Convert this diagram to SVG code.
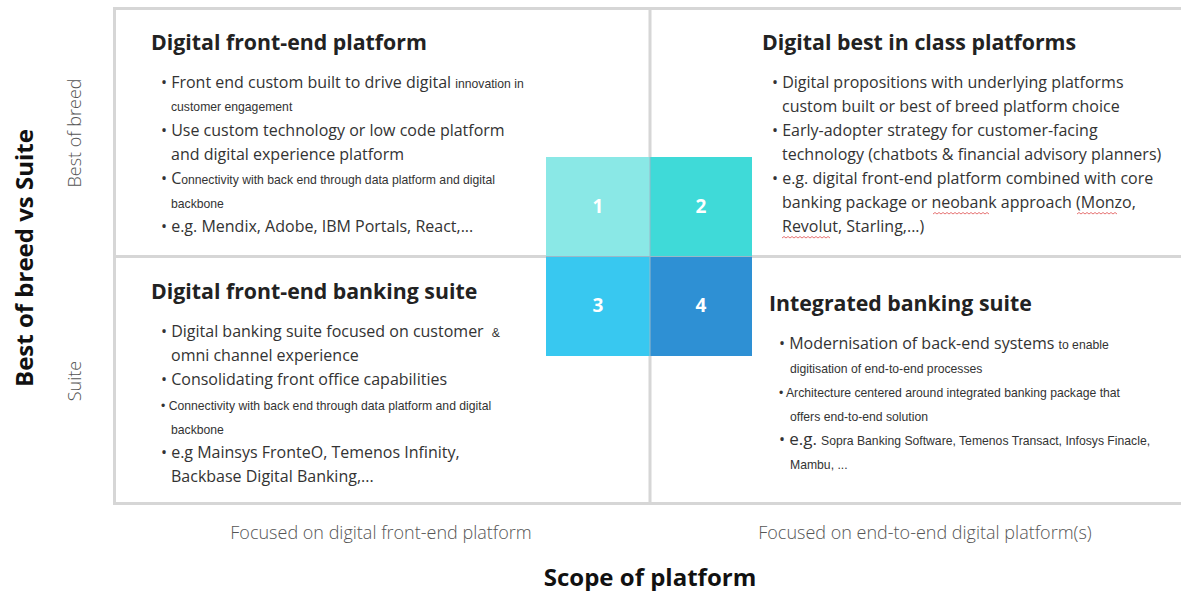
<svg xmlns="http://www.w3.org/2000/svg" width="1181" height="591" viewBox="0 0 1181 591">
  <defs>
    <style>
      .grid { fill: none; stroke: #d6d6d6; stroke-width: 3; }
      .title { font-family: "Open Sans", "DejaVu Sans", sans-serif; font-weight: 700; font-size: 21.3px; fill: #222; }
      .body { font-family: "Open Sans", "DejaVu Sans", sans-serif; font-size: 16px; fill: #333; }
      .small { font-family: "Liberation Sans", Arial, sans-serif; font-size: 12.2px; fill: #333; }
      .num { font-family: "Open Sans", "DejaVu Sans", sans-serif; font-weight: 700; font-size: 19px; fill: #fff; text-anchor: middle; }
      .axis { font-family: "Open Sans", "DejaVu Sans", sans-serif; font-weight: 700; font-size: 24px; fill: #111; text-anchor: middle; }
      .tick { font-family: "Open Sans", "DejaVu Sans", sans-serif; font-weight: 300; font-size: 18px; fill: #555; text-anchor: middle; }
      .squiggle { fill: none; stroke: #e05050; stroke-width: 0.8; }
    </style>
  </defs>

  <rect width="1181" height="591" fill="#fff"/>

  <!-- quadrant frame -->
  <g id="frame">
    <path class="grid" d="M1185 8.5 H114.5 V503.5 H1185"/>
    <line class="grid" x1="650" y1="8" x2="650" y2="504"/>
    <line class="grid" x1="114" y1="256.5" x2="1185" y2="256.5"/>
  </g>

  <!-- numbered centre tiles -->
  <g id="tiles">
    <g id="tile-1"><rect x="546" y="157" width="104" height="99.5" fill="#8ae8e6"/><text class="num" x="598" y="213">1</text></g>
    <g id="tile-2"><rect x="650" y="157" width="102" height="99.5" fill="#3fdad8"/><text class="num" x="701" y="213">2</text></g>
    <g id="tile-3"><rect x="546" y="256.5" width="104" height="99.5" fill="#38c8f0"/><text class="num" x="598" y="312">3</text></g>
    <g id="tile-4"><rect x="650" y="256.5" width="102" height="99.5" fill="#2e90d4"/><text class="num" x="701" y="312">4</text></g>
    <line x1="650" y1="157" x2="650" y2="356" stroke="#9ab8c8" stroke-width="1"/>
    <line x1="546" y1="256.5" x2="752" y2="256.5" stroke="#9ab8c8" stroke-width="1"/>
  </g>

  <!-- quadrant 1 -->
  <g id="q1">
    <text class="title" x="151" y="50">Digital front-end platform</text>
    <text class="body" x="161" y="88">• Front end custom built to drive digital <tspan class="small">innovation in</tspan></text>
    <text class="small" x="171" y="111">customer engagement</text>
    <text class="body" x="161" y="136">• Use custom technology or low code platform</text>
    <text class="body" x="171" y="160">and digital experience platform</text>
    <text class="body" x="161" y="184">• C<tspan class="small">onnectivity with back end through data platform and digital</tspan></text>
    <text class="small" x="171" y="208">backbone</text>
    <text class="body" x="161" y="232">• e.g. Mendix, Adobe, IBM Portals, React,...</text>
  </g>

  <!-- quadrant 2 -->
  <g id="q2">
    <text class="title" x="762" y="50">Digital best in class platforms</text>
    <text class="body" x="772" y="88">• Digital propositions with underlying platforms</text>
    <text class="body" x="782" y="112">custom built or best of breed platform choice</text>
    <text class="body" x="772" y="136">• Early-adopter strategy for customer-facing</text>
    <text class="body" x="782" y="160">technology (chatbots &amp; financial advisory planners)</text>
    <text class="body" x="772" y="184">• e.g. digital front-end platform combined with core</text>
    <text class="body" x="782" y="208">banking package or neobank approach (Monzo,</text>
    <text class="body" x="782" y="232">Revolut, Starling,...)</text>
    <!-- spell-check underlines -->
    <path class="squiggle" d="M933 214 l2 -1.5 l2 1.5 l2 -1.5 l2 1.5 l2 -1.5 l2 1.5 l2 -1.5 l2 1.5 l2 -1.5 l2 1.5 l2 -1.5 l2 1.5 l2 -1.5 l2 1.5 l2 -1.5 l2 1.5 l2 -1.5 l2 1.5 l2 -1.5 l2 1.5 l2 -1.5 l2 1.5 l2 -1.5 l2 1.5 l2 -1.5 l2 1.5 l2 -1.5 l2 1.5"/>
    <path class="squiggle" d="M1077 214 l2 -1.5 l2 1.5 l2 -1.5 l2 1.5 l2 -1.5 l2 1.5 l2 -1.5 l2 1.5 l2 -1.5 l2 1.5 l2 -1.5 l2 1.5 l2 -1.5 l2 1.5 l2 -1.5 l2 1.5 l2 -1.5 l2 1.5 l2 -1.5 l2 1.5"/>
    <path class="squiggle" d="M782 238 l2 -1.5 l2 1.5 l2 -1.5 l2 1.5 l2 -1.5 l2 1.5 l2 -1.5 l2 1.5 l2 -1.5 l2 1.5 l2 -1.5 l2 1.5 l2 -1.5 l2 1.5 l2 -1.5 l2 1.5 l2 -1.5 l2 1.5 l2 -1.5 l2 1.5 l2 -1.5 l2 1.5 l2 -1.5 l2 1.5"/>
  </g>

  <!-- quadrant 3 -->
  <g id="q3">
    <text class="title" x="151" y="299">Digital front-end banking suite</text>
    <text class="body" x="161" y="337">• Digital banking suite focused on customer <tspan class="small" dx="4">&amp;</tspan></text>
    <text class="body" x="171" y="361">omni channel experience</text>
    <text class="body" x="161" y="385">• Consolidating front office capabilities</text>
    <text class="small" x="161" y="410">•  Connectivity with back end through data platform and digital</text>
    <text class="small" x="171" y="434">backbone</text>
    <text class="body" x="161" y="458">• e.g Mainsys FronteO, Temenos Infinity,</text>
    <text class="body" x="171" y="482">Backbase Digital Banking,...</text>
  </g>

  <!-- quadrant 4 -->
  <g id="q4">
    <text class="title" x="769" y="311">Integrated banking suite</text>
    <text class="body" x="779" y="349">• Modernisation of back-end systems <tspan class="small">to enable</tspan></text>
    <text class="small" x="790" y="373">digitisation of end-to-end processes</text>
    <text class="small" x="779" y="397">•  Architecture centered around integrated banking package that</text>
    <text class="small" x="790" y="421">offers end-to-end solution</text>
    <text class="body" x="779" y="445">• <tspan font-size="17px">e.g.</tspan> <tspan class="small">Sopra Banking Software, Temenos Transact, Infosys Finacle,</tspan></text>
    <text class="small" x="790" y="469">Mambu, ...</text>
  </g>

  <!-- axes -->
  <g id="axes">
    <text class="axis" transform="translate(33 258) rotate(-90)">Best of breed vs Suite</text>
    <text class="tick" transform="translate(81 133) rotate(-90)">Best of breed</text>
    <text class="tick" transform="translate(81 381) rotate(-90)">Suite</text>
    <text class="tick" x="381" y="539">Focused on digital front-end platform</text>
    <text class="tick" x="925" y="539">Focused on end-to-end digital platform(s)</text>
    <text class="axis" x="650" y="586">Scope of platform</text>
  </g>
</svg>
